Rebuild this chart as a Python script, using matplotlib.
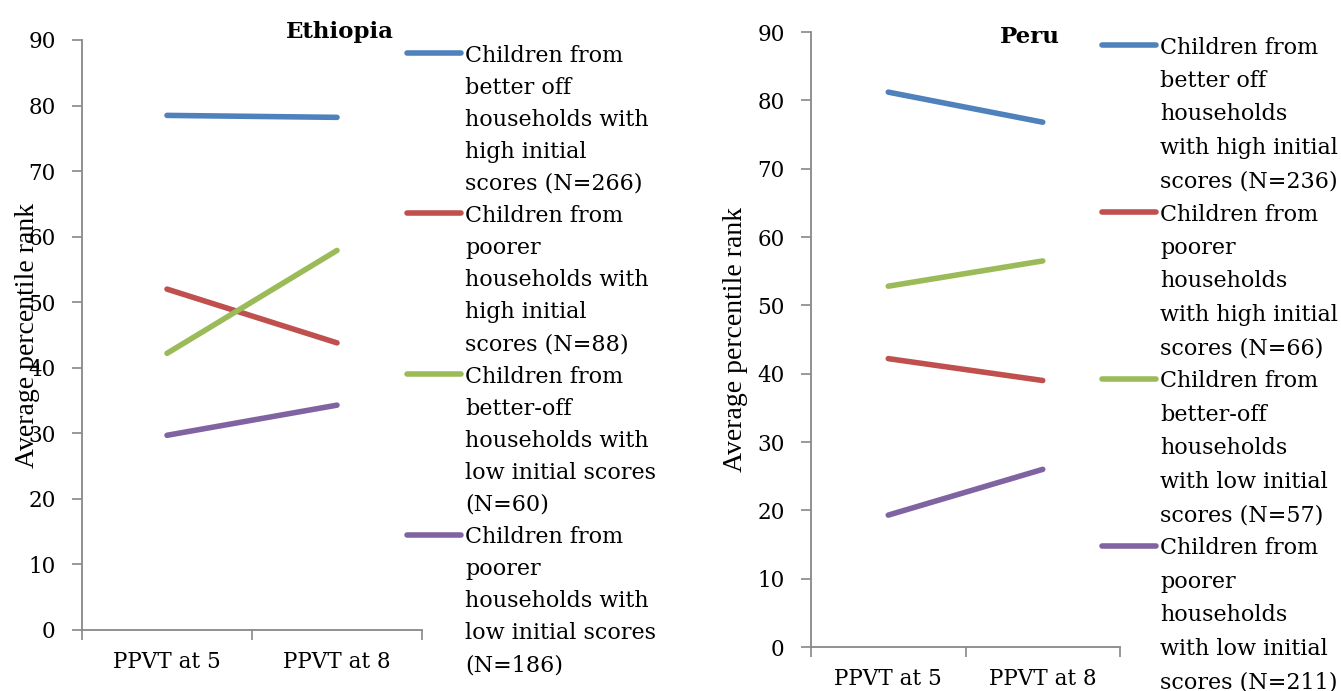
import matplotlib
matplotlib.use("Agg")
import matplotlib.pyplot as plt
from matplotlib.lines import Line2D

categories = ["PPVT at 5", "PPVT at 8"]
yticks = [0, 10, 20, 30, 40, 50, 60, 70, 80, 90]
colors = ["#4F81BD", "#C0504D", "#9BBB59", "#8064A2"]

eth_title = "Ethiopia"
eth_values = [
    [78.5, 78.2],
    [52.0, 43.8],
    [42.2, 57.9],
    [29.7, 34.3],
]
eth_labels = [
    "Children from\nbetter off\nhouseholds with\nhigh initial\nscores (N=266)",
    "Children from\npoorer\nhouseholds with\nhigh initial\nscores (N=88)",
    "Children from\nbetter-off\nhouseholds with\nlow initial scores\n(N=60)",
    "Children from\npoorer\nhouseholds with\nlow initial scores\n(N=186)",
]

peru_title = "Peru"
peru_values = [
    [81.2, 76.8],
    [42.2, 39.0],
    [52.8, 56.5],
    [19.3, 26.0],
]
peru_labels = [
    "Children from\nbetter off\nhouseholds\nwith high initial\nscores (N=236)",
    "Children from\npoorer\nhouseholds\nwith high initial\nscores (N=66)",
    "Children from\nbetter-off\nhouseholds\nwith low initial\nscores (N=57)",
    "Children from\npoorer\nhouseholds\nwith low initial\nscores (N=211)",
]

W, H = 1341, 691
fig = plt.figure(figsize=(W / 100, H / 100), dpi=100)

SERIF = "DejaVu Serif"
TIMES = "Liberation Serif"
GRAY = "#888888"
LW = 4.0


def px(x0, y0, x1, y1):
    return [x0 / W, 1 - y1 / H, (x1 - x0) / W, (y1 - y0) / H]


def panel(rect, values, title, title_xy, labels, leg_x, leg_y0, line_h, ylab_x):
    ax = fig.add_axes(rect)
    xs = list(range(len(categories)))
    for vals, c in zip(values, colors):
        ax.plot(xs, vals, color=c, lw=LW, solid_capstyle="round", zorder=3)
    ax.set_xlim(-0.5, len(categories) - 0.5)
    ax.set_ylim(0, 90)
    ax.set_yticks(yticks)
    ax.set_yticklabels([str(t) for t in yticks], fontfamily=SERIF, fontsize=15.5)
    ax.set_xticks([-0.5, 0.5, 1.5])
    ax.set_xticklabels([])
    ax.set_xticks(xs, minor=True)
    ax.set_xticklabels(categories, minor=True, fontfamily=SERIF, fontsize=15.5)
    ax.tick_params(axis="x", which="minor", length=0, pad=15)
    ax.tick_params(axis="x", which="major", length=7, width=1.2, color=GRAY, direction="out")
    ax.tick_params(axis="y", length=7, width=1.2, color=GRAY, direction="out", pad=12)
    for s in ["top", "right"]:
        ax.spines[s].set_visible(False)
    for s in ["left", "bottom"]:
        ax.spines[s].set_color(GRAY)
        ax.spines[s].set_linewidth(1.3)
    ax.set_facecolor("none")
    fig.text(title_xy[0] / W, 1 - title_xy[1] / H, title, fontfamily=SERIF,
             fontweight="bold", fontsize=16.5, ha="center", va="center")
    cy = (1 - rect[1] - rect[3] / 2) * H
    fig.text(ylab_x / W, 1 - cy / H, "Average percentile rank",
             fontfamily=TIMES, fontsize=20, rotation=90, ha="center", va="center")
    # legend
    y = leg_y0
    for lab, c in zip(labels, colors):
        fig.add_artist(Line2D([(leg_x - 58) / W, (leg_x - 4) / W], [1 - y / H, 1 - y / H],
                              color=c, lw=LW, solid_capstyle="round"))
        for ln in lab.split("\n"):
            fig.text(leg_x / W, 1 - y / H, ln, fontfamily=SERIF, fontsize=16,
                     ha="left", va="center_baseline")
            y += line_h
    return ax


panel(px(82, 40, 422, 630), eth_values, eth_title, (340, 32), eth_labels,
      465, 53, 32.1, 28)
panel(px(811, 32, 1120, 647), peru_values, peru_title, (1030, 37), peru_labels,
      1160, 45, 33.4, 736)

fig.savefig("out.png", dpi=100)
